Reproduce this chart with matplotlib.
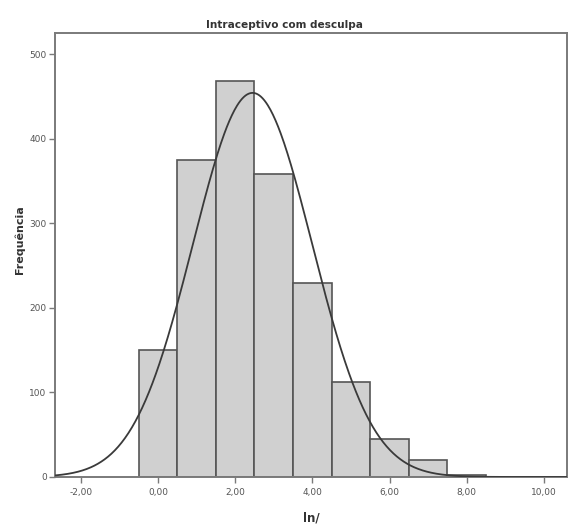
import numpy as np
import matplotlib
matplotlib.use("Agg")
import matplotlib.pyplot as plt

# Data
bin_edges = [-0.5, 0.5, 1.5, 2.5, 3.5, 4.5, 5.5, 6.5, 7.5, 8.5]
counts = [150, 375, 468, 358, 229, 112, 45, 20, 2]
mean_val = 2.45
std_val = 1.545
n_total = sum(counts)
x_ticks = [-2, 0, 2, 4, 6, 8, 10]
x_tick_labels = ["-2,00", "0,00", "2,00", "4,00", "6,00", "8,00", "10,00"]
y_ticks = [0, 100, 200, 300, 400, 500]
title = "Intraceptivo com desculpa"
xlabel = "ln/"
ylabel = "Frequência"

fig = plt.figure(figsize=(5.68, 5.27), dpi=100)
ax = fig.add_axes([55/568, 1-477/527, (567-55)/568, (477-33)/527])

widths = np.diff(bin_edges)
ax.bar(bin_edges[:-1], counts, width=widths, align="edge",
       color="#d0d0d0", edgecolor="#555555", linewidth=1.2, zorder=2)

xlim = (-2.67, 10.6)
xs = np.linspace(xlim[0], xlim[1], 600)
ys = n_total * 1.0 / (std_val*np.sqrt(2*np.pi)) * np.exp(-0.5*((xs-mean_val)/std_val)**2)
ax.plot(xs, ys, color="#3a3a3a", linewidth=1.3, zorder=3)

ax.set_xlim(*xlim)
ax.set_ylim(0, 525)
ax.set_xticks(x_ticks)
ax.set_xticklabels(x_tick_labels)
ax.set_yticks(y_ticks)
for s in ax.spines.values():
    s.set_color("#7a7a7a")
    s.set_linewidth(1.4)
ax.tick_params(axis="both", colors="#7a7a7a", labelcolor="#555555",
               labelsize=6.5, length=4, width=1, direction="out")
ax.tick_params(axis="x", pad=4)
ax.tick_params(axis="y", pad=2)

fig.text(0.5, 1-25/527, title, ha="center", va="center",
         fontsize=7.6, fontweight="bold", color="#333333")
fig.text(311/568, 1-518/527, xlabel, ha="center", va="center",
         fontsize=8.5, fontweight="bold", color="#333333")
fig.text(20/568, 1-240/527, ylabel, ha="center", va="center", rotation=90,
         fontsize=8, fontweight="bold", color="#333333")

fig.savefig("out.png", dpi=100, facecolor="white")
